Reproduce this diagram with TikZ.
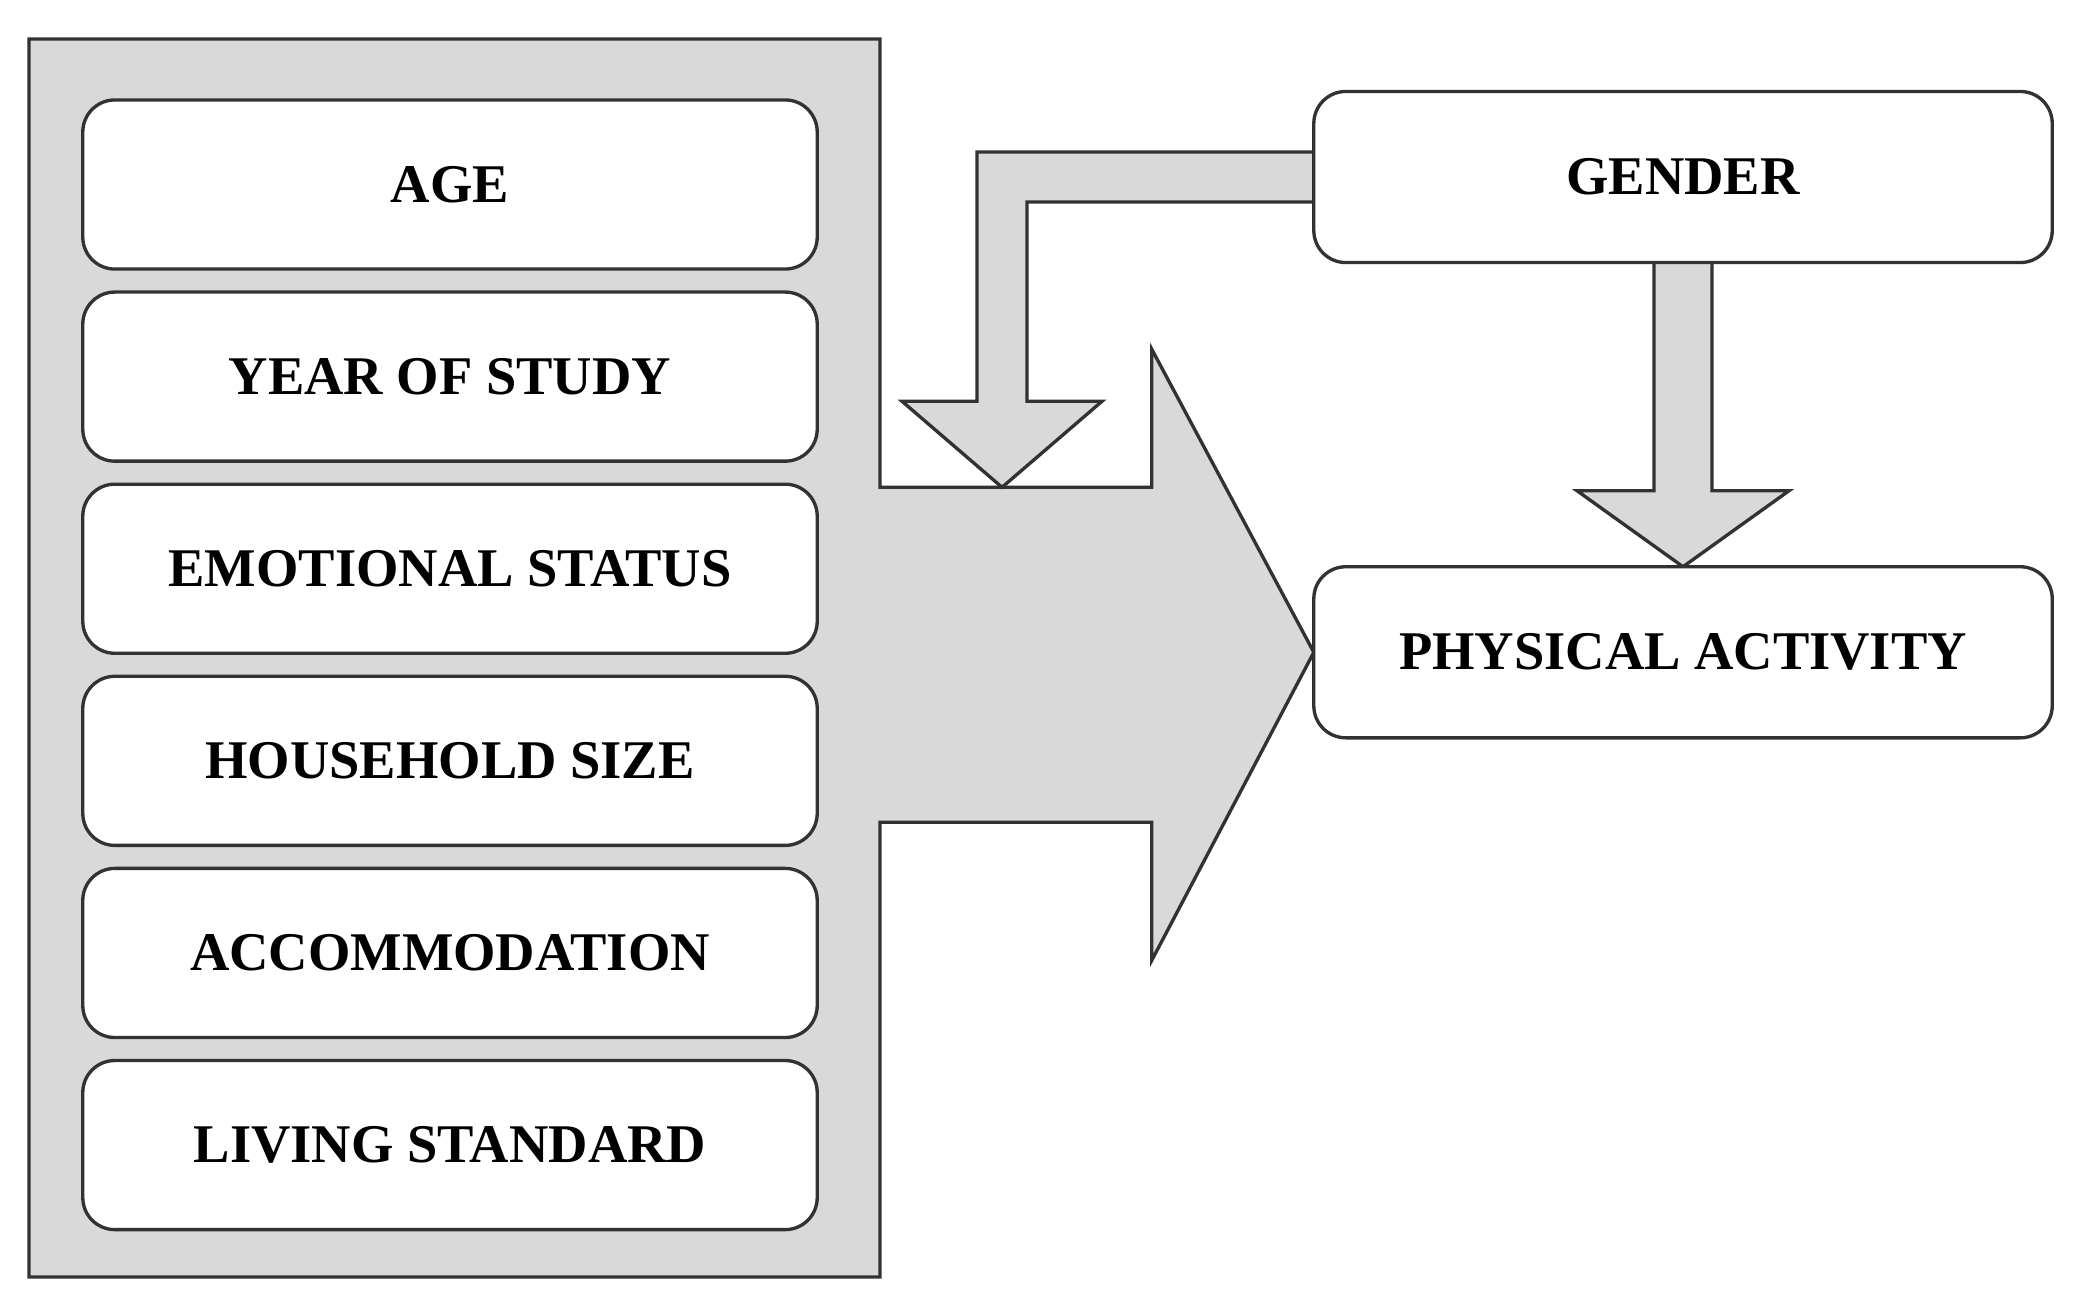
\documentclass[tikz,border=0pt]{standalone}
\usepackage{fontspec}
\setmainfont{Liberation Serif}
\usepackage{tikz}
\usetikzlibrary{calc,backgrounds,positioning}

\definecolor{panelgray}{RGB}{217,217,217}
\definecolor{linegray}{RGB}{50,50,50}
\newcommand{\factorfont}{\bfseries\fontsize{15.5pt}{18pt}\selectfont}

\begin{document}
\begin{tikzpicture}[x=0.01cm,y=-0.01cm,
  factor/.style={draw=linegray,line width=0.95pt,rounded corners=0.32cm,fill=white,
    minimum width=7.34cm,minimum height=1.69cm,inner sep=0pt,outer sep=0pt,font=\factorfont},
  outcome/.style={factor,minimum width=7.38cm,minimum height=1.71cm},
  blockarrow/.style={draw=linegray,line width=0.95pt,fill=panelgray,line join=miter}]
\useasboundingbox (0,0) rectangle (2080,1303);
% factors in the panel
\node[factor] (age) at (450,184.5) {AGE};
\node[factor,below=0.23cm of age] (year) {YEAR OF STUDY};
\node[factor,below=0.23cm of year] (emotion) {EMOTIONAL STATUS};
\node[factor,below=0.23cm of emotion] (household) {HOUSEHOLD SIZE};
\node[factor,below=0.23cm of household] (accom) {ACCOMMODATION};
\node[factor,below=0.23cm of accom] (living) {LIVING STANDARD};
% gender and outcome
\node[outcome] (gender) at (1683,177) {GENDER};
\node[outcome,below=3.04cm of gender] (pa) {PHYSICAL ACTIVITY};
\coordinate (shaft top) at ($(pa.west)+(-162,-165)$);
\coordinate (shaft bot) at ($(pa.west)+(-162,170)$);
\coordinate (bend tip) at (1002,0 |- shaft top);
\begin{scope}[on background layer]
% panel with the big arrow
\draw[blockarrow] (29,39) -- (880,39) -- (880,0 |- shaft top) -- (shaft top) -- ++(0,-138)
  -- (pa.west) -- ($(shaft bot)+(0,138)$) -- (shaft bot) -- (880,0 |- shaft bot)
  -- (880,1277) -- (29,1277) -- cycle;
% gender -> big arrow
\draw[blockarrow] ($(gender.west)+(0,-25)$) -| ($(bend tip)+(-25,-86)$) -- ++(-75,0)
  -- (bend tip) -- ++(100,-86) -- ++(-75,0) |- ($(gender.west)+(0,25)$);
% gender -> physical activity
\draw[blockarrow] ($(gender.south)+(-29,0)$) -- ($(pa.north)+(-29,-76)$) -- ++(-77,0)
  -- (pa.north) -- ++(106,-76) -- ++(-77,0) -- ($(gender.south)+(29,0)$);
\end{scope}
\end{tikzpicture}
\end{document}
